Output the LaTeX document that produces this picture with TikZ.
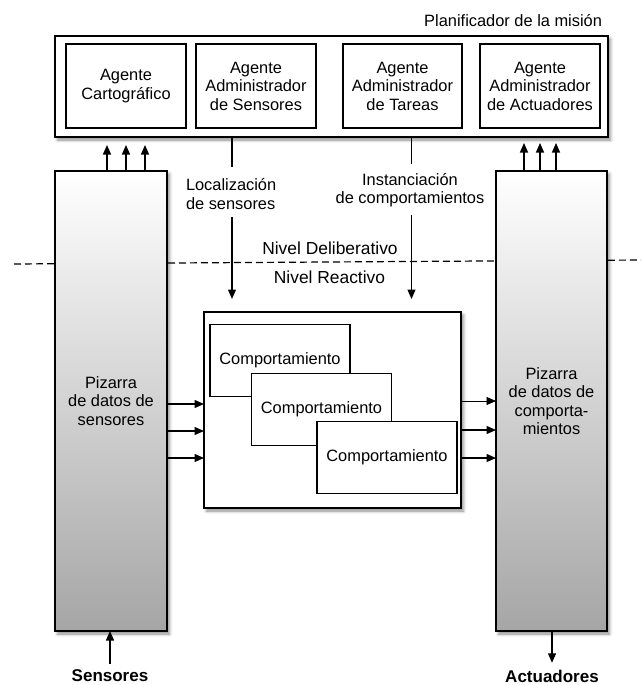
\documentclass[tikz,border=0pt]{standalone}
\usepackage{fontspec}
\setmainfont{Liberation Sans}
\usetikzlibrary{arrows.meta,shadows.blur,calc}

\begin{document}
\begin{tikzpicture}[x=1pt,y=-1pt,
  font=\fontsize{16.4}{18.5}\selectfont,
  every node/.style={inner sep=0pt, outer sep=0pt},
  softshadow/.style={blur shadow={shadow xshift=2.5pt,shadow yshift=-3pt,shadow blur radius=3pt,shadow opacity=45}},
  frame/.style={draw, line width=1.8pt, fill=white, softshadow},
  agent/.style={draw, line width=1.3pt, fill=white, minimum width=120pt, minimum height=84pt, align=center},
  board/.style={draw, line width=1.5pt, top color=white, bottom color=black!35, minimum width=112pt, minimum height=460pt, align=center, softshadow},
  behav/.style={draw, line width=1.3pt, fill=white, minimum width=140pt, minimum height=72pt},
  arr/.style={line width=1.3pt, -{Triangle[length=9.5pt,width=8pt]}},
  link/.style={line width=1.3pt},
  levelsep/.style={line width=1.2pt, dash pattern=on 7pt off 4pt},
  lvl/.style={font=\fontsize{17.4}{20}\selectfont},
  ends/.style={font=\fontsize{17}{20}\selectfont\bfseries},
]
\useasboundingbox (0,0) rectangle (641,685);

% boundary between the deliberative and the reactive level
\coordinate (sepL) at (14,264);
\coordinate (sepR) at (641,260);
\draw[levelsep] (sepL) -- (sepR);

% mission planner with its four agents
\node[anchor=east] (plantitle) at (602,21) {Planificador de la misión};
\node[frame, minimum width=553pt, minimum height=101pt] (plan) at (331.5,86.5) {};
\node[agent] (cart) at (126,86) {Agente\\Cartográfico};
\node[agent] (asens) at (256,86) {Agente\\Administrador\\de Sensores};
\node[agent, minimum width=119pt] (atask) at (402.5,86) {Agente\\Administrador\\de Tareas};
\node[agent] (aact) at (540,86) {Agente\\Administrador\\de Actuadores};

% blackboards
\node[board] (sboard) at (111,401) {Pizarra\\de datos de\\sensores};
\node[board, minimum width=111pt] (bboard) at (551.5,401) {Pizarra\\de datos de\\comporta-\\mientos};

% behaviours
\node[frame, minimum width=257pt, minimum height=196pt] (beh) at (332.5,410) {};
\node[behav] (b1) at (280,360.5) {Comportamiento};
\node[behav] (b2) at (321.5,409.5) {Comportamiento};
\node[behav] (b3) at (387,457.5) {Comportamiento};

% labels
\node[anchor=west, align=left] (loc) at (186,194) {Localización\\de sensores};
\node[align=center] (inst) at (410,190) {Instanciación\\de comportamientos};
\node[lvl] (delib) at (330,248) {Nivel Deliberativo};
\node[lvl] (react) at (329.5,277) {Nivel Reactivo};
\node[ends] (sens) at (110,676) {Sensores};
\node[ends] (act) at (552,676) {Actuadores};

% planner to behaviours
\coordinate (ls1) at (232,167);
\coordinate (ls2) at (232,217);
\coordinate (it1) at (411.5,164);
\coordinate (it2) at (411.5,215);
\draw[link] (plan.south -| ls1) -- (ls1);
\draw[arr, shorten >=13pt] (ls2) -- (beh.north -| ls2);
\draw[link] (plan.south -| it1) -- (it1);
\draw[arr, shorten >=13pt] (it2) -- (beh.north -| it2);

% blackboards up to the planner
\foreach \x in {107,126,145} {
  \coordinate (cx) at (\x,0);
  \draw[arr, shorten >=8pt] (sboard.north -| cx) -- (plan.south -| cx);
}
\foreach \x in {524,540,556} {
  \coordinate (cx) at (\x,0);
  \draw[arr, shorten >=6pt] (bboard.north -| cx) -- (plan.south -| cx);
}

% sensor data into the behaviours, behaviour output out
\foreach \y in {404,431,458} {
  \coordinate (cy) at (0,\y);
  \draw[arr] (sboard.east |- cy) -- (beh.west |- cy);
}
\coordinate (oy1) at (0,401);
\draw[arr, line width=0.6pt] (beh.east |- oy1) -- (bboard.west |- oy1);
\foreach \y in {430,458} {
  \coordinate (cy) at (0,\y);
  \draw[arr] (beh.east |- cy) -- (bboard.west |- cy);
}

% sensors and actuators
\draw[arr] ([yshift=6pt]sens.north) -- (sens.north |- sboard.south);
\draw[arr, shorten >=7pt] (act.north |- bboard.south) -- (act.north);
\end{tikzpicture}
\end{document}
